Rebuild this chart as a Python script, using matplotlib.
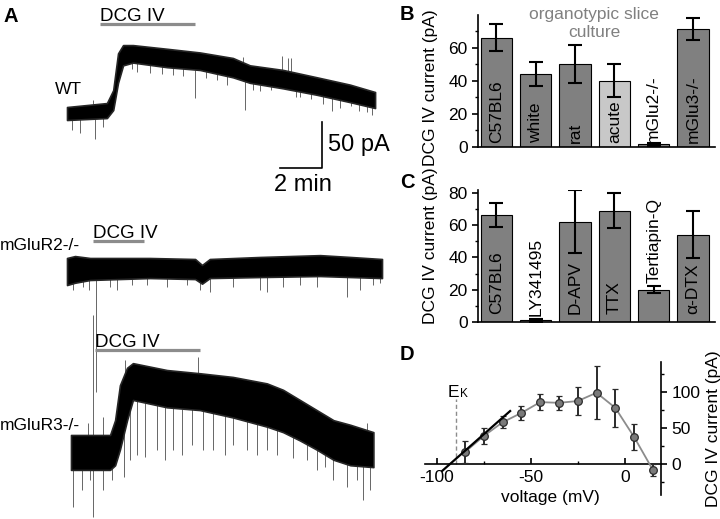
import numpy as np
import matplotlib.pyplot as plt
from matplotlib.ticker import MultipleLocator

plt.rcParams['font.family'] = ['Liberation Sans', 'DejaVu Sans']
plt.rcParams['axes.unicode_minus'] = False

W, H = 720, 519

# ---------------- A: holding current traces (time in min, current in pA) ----------------
wt_t = [0, 1.9, 2.2, 2.43, 2.67, 3.14, 4.76, 6.33, 7.9, 8.71, 10.29, 11.9, 13.48, 14.67]
wt_top = [8.7, 13, 27, 67, 76, 76, 72, 68, 62, 54, 49, 41, 33, 25]
wt_bot = [-5.4, -3.3, 5.4, 35, 54, 57, 52, 49, 41, 35, 29, 22, 14, 7.6]
wt_spk_t = [0.24, 0.62, 1.33, 1.71, 3.08, 3.33, 3.95, 4.5, 5.05, 5.5, 6.1, 6.6, 7.14, 7.6,
            8.48, 8.86, 9.2, 9.7, 10.9, 11.1, 11.6, 12.2, 12.6, 13.0, 13.5, 13.9, 14.3, 14.5]
wt_spk_v = [-16, -20, -26, -13, 50, 47, 46, 45, 44, 42, 18.5, 40, 38, 33,
            5.4, 27, 26, 27, 20, 19.6, 17, 12, 4.3, 8, 9.8, 4, 3.3, 0]
wt_up_t = [1.24, 8.38, 10.24, 10.52, 10.67]
wt_up_v = [16, 63, 64, 62, 62]

r2_t = [0, 0.38, 1.1, 3.95, 6.1, 6.43, 6.8, 9.19, 12.05, 13.5, 15.0]
r2_top = [10.9, 13, 10.9, 10.9, 9.8, 3.3, 9.8, 12, 14, 12, 9.8]
r2_bot = [-18.5, -16, -13, -10.9, -12, -17, -10.9, -9.8, -8.7, -9.8, -10.9]
r2_spk_t = [0.05, 0.29, 0.76, 1.05, 1.38, 2.05, 2.38, 3.1, 3.81, 4.76, 5.71, 6.33, 6.81,
            7.9, 9.19, 9.52, 10.29, 11.1, 11.9, 13.33, 13.95, 14.57, 14.9]
r2_spk_v = [-18.5, -24, -20.7, -24, -135, -20.7, -24, -18.5, -18.5, -20.7, -18.5, -24, -26,
            -20.7, -24, -26, -20.7, -18.5, -20.7, -31.5, -24, -18.5, -16]

r3_t = [0, 1.86, 2.1, 2.33, 2.67, 2.95, 4.57, 6.14, 7.71, 9.33, 10.1, 10.9, 11.7, 12.5, 13.3, 14.4]
r3_top = [10.9, 10.9, 27, 65, 84, 89, 81.5, 78, 74, 67, 60, 49, 38, 27, 22, 14]
r3_bot = [-27, -27, -22, -5, 27, 49, 41, 38, 30, 20, 14, 5, -5, -16, -22, -24]
r3_spk_t = [0.1, 0.52, 0.9, 1.05, 1.52, 1.95, 2.52, 2.81, 3.14, 3.52, 4.1, 4.48, 4.86, 5.29,
            5.76, 6.29, 6.76, 7.33, 7.71, 8.38, 8.86, 9.33, 9.81, 10.57, 11.24, 11.71, 12.1,
            12.48, 13.14, 13.62, 13.9, 14.24]
r3_spk_v = [-67, -49, -38, -78, -49, -38, -35, -16, -11, -13, -5, -16, -5, -11,
            0, -5, -5, -11, 0, -5, -11, -5, -11, -14, -16, -27, -24,
            -38, -46, -38, -60, -49]
r3_up_t = [0.81, 1.05, 1.52, 2.57, 6.05, 14.1]
r3_up_v = [24, 141, 30, 92, 96, 24]

# drug application (min), per trace
dcg_on = [1.57, 1.24, 1.14]
dcg_off = [6.1, 3.67, 6.14]

# ---------------- B / C / D data ----------------
b_names = ["C57BL6", "white", "rat", "acute", "mGlu2-/-", "mGlu3-/-"]
b_vals = [66, 44, 50, 40, 1.6, 71]
b_errs = [7.9, 7.5, 11.6, 10, 1, 6.5]

c_names = ["C57BL6", "LY341495", "D-APV", "TTX", "Tertiapin-Q", "\u03b1-DTX"]
c_vals = [66, 1, 62, 69, 20, 54]
c_errs = [7.5, 0.8, 19.6, 11, 2, 14.5]

d_volt = [-85, -75, -65, -55, -45, -35, -25, -15, -5, 5, 15]
d_curr = [16.7, 39, 58, 71, 86, 85, 87.5, 99, 78, 37.5, -8.3]
d_err = [15, 10.5, 8.5, 9.5, 11, 9.5, 20, 37, 26, 18, 9]
e_k = -90
fit_slope, fit_rev = 2.3, -93
fit_v = np.array([-97, -61])

fig = plt.figure(figsize=(7.2, 5.19), dpi=100)


def fxy(x, y):
    return x / W, 1 - y / H


# ---------------- panel A ----------------
ax_a = fig.add_axes([0, 0, 400 / W, 1])
ax_a.set_xlim(-67 / 21, 333 / 21)
ax_a.set_ylim(0, H / 0.92)
ax_a.axis('off')

traces = [
    (wt_t, wt_top, wt_bot, wt_spk_t, wt_spk_v, wt_up_t, wt_up_v, 0.0, 439.1, 99),
    (r2_t, r2_top, r2_bot, r2_spk_t, r2_spk_v, [], [], 0.0, 272.8, 29),
    (r3_t, r3_top, r3_bot, r3_spk_t, r3_spk_v, r3_up_t, r3_up_v, 0.19, 80.4, 103),
]
for i, (t, top, bot, st, sv, ut, uv, t0, p0, bar_h) in enumerate(traces):
    t = np.array(t) + t0
    ax_a.fill_between(t, np.array(bot) + p0, np.array(top) + p0, facecolor='black',
                      edgecolor='0.15', lw=1.2, zorder=3)
    st = np.array(st) + t0
    start = np.interp(st, t, np.array(bot)) + p0
    ax_a.vlines(st, start, np.array(sv) + p0, color='0.3', lw=0.6, zorder=2)
    if ut:
        ut = np.array(ut) + t0
        start = np.interp(ut, t, np.array(top)) + p0
        ax_a.vlines(ut, start, np.array(uv) + p0, color='0.3', lw=0.6, zorder=2)
    on, off = dcg_on[i] + t0, dcg_off[i] + t0
    ax_a.plot([on, off], [p0 + bar_h] * 2, color='0.55', lw=2.3, solid_capstyle='butt')
    ax_a.text(on, p0 + bar_h + 3.5, "DCG IV", fontsize=13.5, va='baseline', ha='left')

# scale bar: 2 min, 50 pA
sb_t, sb_p = 12.14, 381.5
ax_a.plot([sb_t - 2, sb_t, sb_t], [sb_p, sb_p, sb_p + 50], color='black', lw=1.2)
fig.text(*fxy(328, 145), "50 pA", fontsize=17, va='center', ha='left')
fig.text(*fxy(303, 185), "2 min", fontsize=17, va='center', ha='center')

fig.text(*fxy(55, 90), "WT", fontsize=12.5, va='center', ha='left')
fig.text(*fxy(0, 246), "mGluR2-/-", fontsize=12.5, va='center', ha='left')
fig.text(*fxy(0, 425), "mGluR3-/-", fontsize=12.5, va='center', ha='left')

for lab, x, y in [("A", 3, 7), ("B", 400, 5), ("C", 400, 173), ("D", 400, 345)]:
    fig.text(*fxy(x, y), lab, fontsize=14.5, fontweight='bold', va='top', ha='left')


# ---------------- panels B and C ----------------
def bar_panel(rect, names, vals, errs, colors, ylim, yticks, label_y, label_frac):
    ax = fig.add_axes(rect)
    x = np.arange(len(names))
    ax.bar(x, vals, width=0.8, color=colors, edgecolor='black', linewidth=0.8)
    ax.errorbar(x, vals, yerr=errs, fmt='none', ecolor='black', elinewidth=1.5,
                capsize=5, capthick=1.5)
    for xi, n, ly in zip(x, names, label_y):
        ax.text(xi, ly, n, rotation=90, ha='center', va='bottom', fontsize=12.5)
    ax.set_xlim(-0.47, 5.56)
    ax.set_ylim(*ylim)
    ax.set_yticks(yticks)
    ax.yaxis.set_minor_locator(MultipleLocator(10))
    ax.set_xticks([])
    ax.spines['top'].set_visible(False)
    ax.spines['right'].set_visible(False)
    ax.spines['left'].set_linewidth(1.2)
    ax.spines['bottom'].set_linewidth(1.2)
    ax.tick_params(axis='y', labelsize=12.5, length=4.5, width=1.2, pad=3)
    ax.tick_params(axis='y', which='minor', length=2.5, width=1.0)
    ax.set_ylabel("DCG IV current (pA)", fontsize=12.5)
    ax.yaxis.set_label_coords(-0.17, label_frac)
    return ax


gray, light = '#808080', '#c8c8c8'
ax_b = bar_panel([478 / W, 1 - 147 / H, 237 / W, 132 / H], b_names, b_vals, b_errs,
                 [gray, gray, gray, light, gray, gray], (0, 79.6), [0, 20, 40, 60],
                 [2.4] * 6, 0.45)
ax_b.text(2.48, 74.5, "organotypic slice\nculture", color='0.5', fontsize=12.5,
          ha='center', va='center', linespacing=1.3)

ax_c = bar_panel([478 / W, 1 - 322 / H, 237 / W, 132 / H], c_names, c_vals, c_errs,
                 [gray, light, gray, gray, gray, gray], (0, 81.7), [0, 20, 40, 60, 80],
                 [5, 4, 5, 5, 24, 5], 0.58)

# ---------------- panel D ----------------
ax_d = fig.add_axes([425 / W, 1 - 495 / H, 236 / W, 133 / H])
ax_d.plot([e_k, e_k], [0, 91], color='0.55', lw=1, ls=(0, (3, 2)))
ax_d.plot(fit_v, fit_slope * (fit_v - fit_rev), color='black', lw=1.6, zorder=4)
ax_d.errorbar(d_volt, d_curr, yerr=d_err, fmt='o-', color='#8c8c8c', lw=1.3,
              ecolor='#2b2b2b', elinewidth=1.4, capsize=2.5, capthick=1.2,
              ms=5.5, mfc='#7a7a7a', mec='#2b2b2b', mew=0.9, zorder=3)
ax_d.text(-94, 93, "E", fontsize=12.5, va='baseline', ha='left')
ax_d.text(-87.5, 93, "K", fontsize=8.5, va='baseline', ha='left')
ax_d.set_xlim(-106.3, 19.3)
ax_d.set_ylim(-43, 141.7)
ax_d.spines['left'].set_visible(False)
ax_d.spines['top'].set_visible(False)
ax_d.spines['bottom'].set_position(('data', 0))
ax_d.spines['bottom'].set_linewidth(1.2)
ax_d.spines['right'].set_linewidth(1.2)
ax_d.yaxis.tick_right()
ax_d.yaxis.set_label_position('right')
ax_d.set_xticks([-100, -50, 0])
ax_d.xaxis.set_minor_locator(MultipleLocator(25))
ax_d.set_yticks([0, 50, 100])
ax_d.yaxis.set_minor_locator(MultipleLocator(25))
ax_d.tick_params(axis='x', direction='in', length=4, width=1.2, labelsize=12.5, pad=4)
ax_d.tick_params(axis='x', which='minor', direction='in', length=2.5, width=1.0)
ax_d.tick_params(axis='y', direction='out', length=4.5, width=1.2, labelsize=12.5, pad=3)
ax_d.tick_params(axis='y', which='minor', length=2.5, width=1.0)
ax_d.set_xlabel("voltage (mV)", fontsize=12.5)
ax_d.xaxis.set_label_coords(0.53, 0.04)
ax_d.set_ylabel("DCG IV current (pA)", fontsize=12.5, rotation=90)
ax_d.yaxis.set_label_coords(1.19, 0.5)

fig.savefig("out.png", dpi=100)
